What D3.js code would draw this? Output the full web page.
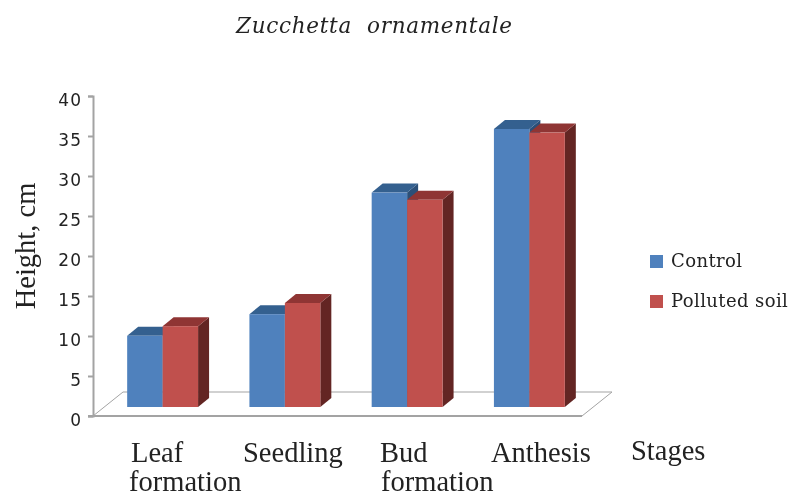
<!DOCTYPE html>
<html>
<head>
<meta charset="utf-8">
<script src="https://d3js.org/d3.v7.min.js"></script>
<style>
    html, body { margin: 0; padding: 0; background: #fff; }
    svg { display: block; filter: blur(0.45px); }
    .title { font-family: "DejaVu Serif"; font-style: italic; font-size: 21.5px; fill: #222; }
    .cat { font-family: "Liberation Serif"; font-size: 28.5px; fill: #222; }
    .ylabel { font-family: "Liberation Serif"; font-size: 28.5px; fill: #222; }
    .tick text { font-family: "DejaVu Sans"; font-size: 17px; fill: #222; letter-spacing: 1px; }
    .tick line, .domain { stroke: #a3a3a3; stroke-width: 2px; }
    .legend { font-family: "DejaVu Serif"; font-size: 18px; letter-spacing: 0.4px; fill: #222; }
    .floor { fill: none; stroke: #a3a3a3; }
</style>
</head>
<body>
<svg id="chart" width="790" height="497"></svg>
<script>
    const stages = ["Leaf formation", "Seedling", "Bud formation", "Anthesis"];
    const series = ["Control", "Polluted soil"];
    const control = [8.9, 11.6, 26.8, 34.75];
    const polluted = [10.1, 13, 25.9, 34.3];
    const yTicks = [0, 5, 10, 15, 20, 25, 30, 35, 40];

    const colors = {
        "Control": { front: "#4f81bd", top: "#34608f", side: "#2b4f78" },
        "Polluted soil": { front: "#c0504d", top: "#8f3534", side: "#632523" }
    };

    const svg = d3.select("#chart");

    const y = d3.scaleLinear().domain([0, 40]).range([416, 96]);
    const x0 = d3.scaleBand().domain(stages).range([93, 582]).paddingInner(0.42).paddingOuter(0.21);
    const x1 = d3.scaleBand().domain(series).range([0, x0.bandwidth()]);

    // depth of the fake 3d
    const floorDx = 30, floorDy = -24;
    const barDx = 11, barDy = -9;
    const shift = 8.5;

    svg.append("text").attr("class", "title")
        .attr("x", 236).attr("y", 33)
        .attr("textLength", 276).attr("xml:space", "preserve")
        .text("Zucchetta  ornamentale");

    // floor
    svg.append("path").attr("class", "floor")
        .attr("d", d3.line()([
            [93, y(0)], [93 + floorDx, y(0) + floorDy],
            [582 + floorDx, y(0) + floorDy], [582, y(0)]
        ]));

    // y axis
    const yAxis = svg.append("g")
        .attr("transform", "translate(93,0)")
        .call(d3.axisLeft(y).tickValues(yTicks).tickSize(5).tickSizeOuter(5).tickPadding(6));
    yAxis.selectAll(".tick text").attr("dy", "0.55em");

    // front edge of the floor
    svg.append("line").attr("x1", 88).attr("x2", 582)
        .attr("y1", y(0)).attr("y2", y(0))
        .attr("stroke", "#a3a3a3").attr("stroke-width", 2);

    const rows = stages.map((s, i) => ({ stage: s, values: [control[i], polluted[i]] }));

    rows.forEach(row => {
        row.values.forEach((v, j) => {
            const name = series[j];
            const left = x0(row.stage) + x1(name) + shift;
            const right = left + x1.bandwidth();
            const base = y(0) + barDy;
            const top = y(v) + barDy;
            const g = svg.append("g");
            g.append("polygon")
                .attr("fill", colors[name].side)
                .attr("points", [[right, top], [right + barDx, top + barDy], [right + barDx, base + barDy], [right, base]].join(" "));
            g.append("polygon")
                .attr("fill", colors[name].top)
                .attr("points", [[left, top], [left + barDx, top + barDy], [right + barDx, top + barDy], [right, top]].join(" "));
            g.append("rect")
                .attr("x", left).attr("y", top)
                .attr("width", x1.bandwidth()).attr("height", base - top)
                .attr("fill", colors[name].front);
        });
    });

    // category labels, set by hand like the original
    const catLabels = ["Leaf", "formation", "Seedling", "Bud", "formation", "Anthesis", "Stages"];
    const catX = [131, 129, 243, 380, 381, 491, 631];
    const catY = [462, 491, 462, 462, 491, 462, 460];
    svg.selectAll("text.cat").data(catLabels).enter().append("text")
        .attr("class", "cat")
        .attr("x", (d, i) => catX[i])
        .attr("y", (d, i) => catY[i])
        .text(d => d);

    svg.append("text").attr("class", "ylabel")
        .attr("transform", "translate(35,246) rotate(-90)")
        .attr("text-anchor", "middle")
        .text("Height, cm");

    // legend
    const legendY = [255, 295];
    const legend = svg.selectAll("g.legend-item").data(series).enter().append("g")
        .attr("transform", (d, i) => "translate(650," + legendY[i] + ")");
    legend.append("rect").attr("width", 13).attr("height", 13)
        .attr("fill", d => colors[d].front);
    legend.append("text").attr("class", "legend")
        .attr("x", 21).attr("y", 12)
        .text(d => d);
</script>
</body>
</html>
